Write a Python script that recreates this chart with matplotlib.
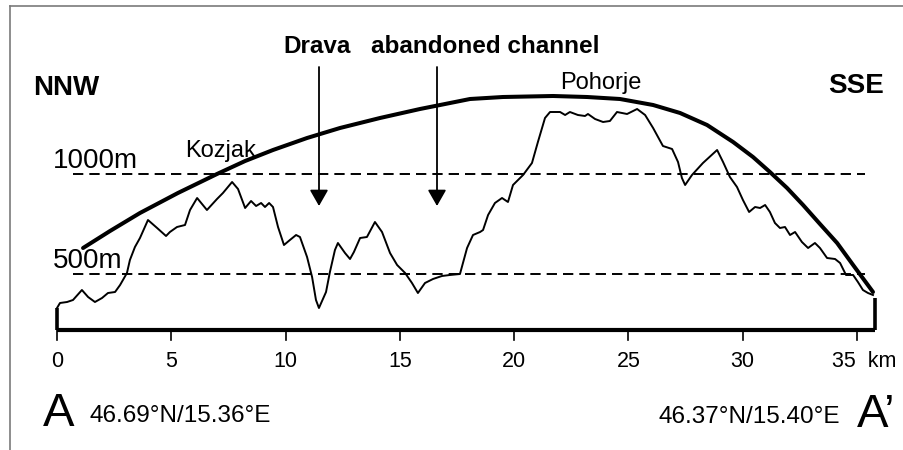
import matplotlib
matplotlib.use("Agg")
import matplotlib.pyplot as plt
from matplotlib.lines import Line2D

plt.rcParams['font.family'] = ['Liberation Sans', 'DejaVu Sans']

# topographic profile A - A' (km along section, elevation in m)
profile_km = [0.00, 0.13, 0.44, 0.70, 1.09, 1.36, 1.66, 1.97, 2.23, 2.54, 2.76, 3.06, 3.19, 3.41,
              3.63, 3.98, 4.38, 4.77, 4.94, 5.25, 5.60, 5.82, 6.13, 6.56, 7.00, 7.26, 7.66, 7.92,
              8.23, 8.49, 8.71, 8.93, 9.10, 9.28, 9.45, 9.67, 9.93, 10.19, 10.46, 10.63, 10.94,
              11.16, 11.33, 11.46, 11.77, 11.94, 12.16, 12.29, 12.60, 12.82, 12.99, 13.26, 13.56,
              13.91, 14.22, 14.57, 14.88, 15.23, 15.53, 15.79, 16.10, 16.45, 16.84, 17.19, 17.63,
              17.94, 18.20, 18.51, 18.64, 18.86, 19.16, 19.47, 19.73, 19.95, 20.39, 20.78, 21.04,
              21.35, 21.57, 22.01, 22.23, 22.44, 22.79, 23.10, 23.23, 23.54, 23.89, 24.19, 24.50,
              24.94, 25.38, 25.73, 26.08, 26.51, 26.91, 27.17, 27.34, 27.48, 27.78, 28.26, 28.88,
              29.14, 29.44, 29.75, 30.01, 30.28, 30.54, 30.76, 30.98, 31.19, 31.41, 31.63, 31.85,
              32.07, 32.29, 32.59, 32.86, 33.16, 33.38, 33.69, 34.04, 34.26, 34.52, 34.83, 35.04,
              35.26, 35.48, 35.70]
profile_m = [330, 355, 360, 370, 420, 385, 360, 380, 405, 410, 445, 505, 570, 635,
             680, 770, 730, 690, 710, 735, 745, 820, 880, 820, 875, 905, 960, 925,
             830, 865, 840, 855, 835, 855, 835, 735, 645, 670, 695, 685, 585,
             485, 370, 330, 410, 510, 620, 655, 605, 575, 610, 680, 685,
             760, 710, 605, 545, 505, 455, 405, 455, 475, 490, 495, 500,
             630, 695, 710, 720, 795, 855, 880, 860, 945, 995, 1055, 1160,
             1280, 1310, 1310, 1295, 1310, 1295, 1290, 1300, 1275, 1260, 1265, 1310,
             1300, 1325, 1295, 1230, 1140, 1125, 1060, 980, 945, 995, 1055, 1120,
             1060, 985, 935, 870, 810, 835, 830, 845, 810, 755, 730, 735,
             695, 710, 660, 630, 655, 630, 580, 575, 555, 495, 495, 460,
             420, 405, 395]

# envelope curve over the summits
envelope_km = [1.14, 2.32, 3.63, 5.29, 7.00, 8.23, 9.45, 10.94, 12.38, 14.13, 15.88, 16.76,
               18.07, 19.51, 21.70, 23.19, 24.63, 26.08, 27.26, 28.44, 29.58, 30.45, 31.19,
               31.94, 32.64, 33.38, 34.13, 34.83, 35.70]
envelope_m = [630, 715, 805, 905, 1000, 1065, 1120, 1180, 1230, 1280, 1325, 1345,
              1375, 1385, 1390, 1385, 1375, 1345, 1305, 1245, 1160, 1085, 1010,
              930, 845, 750, 655, 545, 410]

tick_km = [0, 5, 10, 15, 20, 25, 30, 35]
tick_labels = ["0", "5", "10", "15", "20", "25", "30", "35 km"]
contour_m = [1000, 500]
contour_labels = ["1000m", "500m"]

base_m = 220
end_km = 35.79


def px_x(px):
    # pixel column -> km
    return (px - 57) / 22.857


def px_y(py):
    # pixel row -> metres
    return base_m + (330 - py) * 5


fig = plt.figure(figsize=(9.04, 4.5), dpi=100)
ax = fig.add_axes([0, 0, 1, 1])
ax.set_xlim(px_x(0), px_x(904))
ax.set_ylim(px_y(450), px_y(0))
ax.axis('off')

# frame (left and top only)
fig.add_artist(Line2D([10 / 904, 10 / 904], [0, 1 - 6 / 450], color='#7a7a7a', lw=1.2))
fig.add_artist(Line2D([10 / 904, 1], [1 - 6 / 450, 1 - 6 / 450], color='#7a7a7a', lw=1.2))

# contour lines
for m in contour_m:
    ax.plot([px_x(73), px_x(865)], [m, m], color='black', lw=1.4, linestyle=(0, (5.3, 3.1)))
for m, lab in zip(contour_m, contour_labels):
    ax.text(px_x(53), m + (6 * 5), lab, fontsize=20, ha='left', va='baseline')

# base line with end posts and ticks
ax.plot([0, end_km], [base_m, base_m], color='black', lw=3.0, solid_capstyle='butt')
ax.plot([0, 0], [base_m, px_y(308)], color='black', lw=2.6, solid_capstyle='butt')
ax.plot([end_km, end_km], [base_m, px_y(298)], color='black', lw=2.6, solid_capstyle='butt')
for k, lab in zip(tick_km, tick_labels):
    ax.plot([k, k], [base_m, px_y(340)], color='black', lw=1.2)
    if lab.endswith('km'):
        ax.text(px_x(832), px_y(367), lab.replace(' ', '  '), fontsize=15.5,
                ha='left', va='baseline')
    else:
        ax.text(k, px_y(367), lab, fontsize=15.5, ha='center', va='baseline')

# profile and envelope
ax.plot(profile_km, profile_m, color='black', lw=1.4, solid_joinstyle='round')
ax.plot(envelope_km, envelope_m, color='black', lw=2.9, solid_capstyle='round',
        solid_joinstyle='round')

# arrows
for px in [319, 437]:
    ax.annotate('', xy=(px_x(px), px_y(206)), xytext=(px_x(px), px_y(67)),
                arrowprops=dict(arrowstyle='-|>,head_length=0.7,head_width=0.4', lw=1.3,
                                color='black', mutation_scale=14, shrinkA=0, shrinkB=0))

# labels
ax.text(px_x(33), px_y(95), "NNW", fontsize=20, fontweight='bold', ha='left', va='baseline')
ax.text(px_x(828), px_y(93), "SSE", fontsize=20, fontweight='bold', ha='left', va='baseline')
ax.text(px_x(283), px_y(53), "Drava", fontsize=17.5, fontweight='bold', ha='left', va='baseline')
ax.text(px_x(371), px_y(53), "abandoned channel", fontsize=17.5, fontweight='bold',
        ha='left', va='baseline')
ax.text(px_x(185), px_y(157), "Kozjak", fontsize=17, ha='left', va='baseline')
ax.text(px_x(560), px_y(89), "Pohorje", fontsize=17, ha='left', va='baseline')

ax.text(px_x(43), px_y(426), "A", fontsize=34, ha='left', va='baseline')
ax.text(px_x(90), px_y(422), "46.69°N/15.36°E", fontsize=17.5, ha='left', va='baseline')
ax.text(px_x(659), px_y(423), "46.37°N/15.40°E", fontsize=17.5, ha='left', va='baseline')
ax.text(px_x(857), px_y(427), "A\u2019", fontsize=34, ha='left', va='baseline')

fig.savefig("out.png", dpi=100)
